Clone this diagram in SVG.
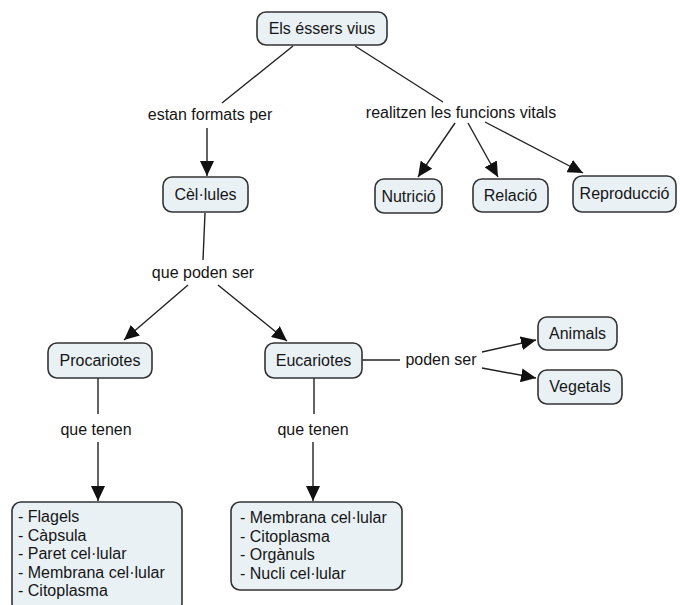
<svg xmlns="http://www.w3.org/2000/svg" width="680" height="605" viewBox="0 0 680 605">
<style>
.node rect{fill:#e9f1f5;stroke:#333;stroke-width:1.6}
text{font-family:"Liberation Sans",Arial,sans-serif;font-size:16px;fill:#151515}
.c{text-anchor:middle}
.edge{stroke:#222;stroke-width:1.4;fill:none}
</style>
<defs>
<marker id="ah" viewBox="0 0 15 14" refX="15" refY="7" markerWidth="15" markerHeight="14" markerUnits="userSpaceOnUse" orient="auto">
<path d="M0,0 L15,7 L0,14 z" fill="#111"/>
</marker>
</defs>
<rect width="680" height="605" fill="#fff"/>
<g id="connectors">
<line class="edge" x1="293" y1="46" x2="222" y2="103"/>
<line class="edge" x1="207" y1="128" x2="207" y2="176" marker-end="url(#ah)"/>
<line class="edge" x1="355" y1="46" x2="443" y2="102"/>
<line class="edge" x1="455" y1="123" x2="418" y2="177" marker-end="url(#ah)"/>
<line class="edge" x1="468" y1="123" x2="498" y2="177" marker-end="url(#ah)"/>
<line class="edge" x1="485" y1="122" x2="583" y2="173" marker-end="url(#ah)"/>
<line class="edge" x1="205" y1="213" x2="203" y2="260"/>
<line class="edge" x1="188" y1="285" x2="124" y2="340" marker-end="url(#ah)"/>
<line class="edge" x1="218" y1="285" x2="287" y2="341" marker-end="url(#ah)"/>
<line class="edge" x1="362" y1="360" x2="400" y2="360"/>
<line class="edge" x1="482" y1="352" x2="536" y2="340" marker-end="url(#ah)"/>
<line class="edge" x1="482" y1="368" x2="536" y2="378" marker-end="url(#ah)"/>
<line class="edge" x1="98" y1="378" x2="98" y2="414"/>
<line class="edge" x1="98" y1="442" x2="98" y2="501" marker-end="url(#ah)"/>
<line class="edge" x1="314" y1="378" x2="314" y2="414"/>
<line class="edge" x1="313" y1="442" x2="313" y2="501" marker-end="url(#ah)"/>
</g>
<g id="labels">
<text class="c" x="210" y="120">estan formats per</text>
<text class="c" x="461" y="118">realitzen les funcions vitals</text>
<text class="c" x="203" y="278">que poden ser</text>
<text class="c" x="441" y="365">poden ser</text>
<text class="c" x="96" y="435">que tenen</text>
<text class="c" x="313" y="435">que tenen</text>
</g>
<g id="n-essers" class="node"><rect x="257" y="12" width="130" height="33" rx="9"/><text class="c" x="322" y="34">Els éssers vius</text></g>
<g id="n-cellules" class="node"><rect x="163" y="177" width="85" height="35" rx="9"/><text class="c" x="205.5" y="200">Cèl·lules</text></g>
<g id="n-nutricio" class="node"><rect x="375" y="179" width="67" height="34" rx="9"/><text class="c" x="408.5" y="202">Nutrició</text></g>
<g id="n-relacio" class="node"><rect x="473" y="179" width="75" height="33" rx="9"/><text class="c" x="510.5" y="201">Relació</text></g>
<g id="n-reproduccio" class="node"><rect x="573" y="176" width="103" height="36" rx="9"/><text class="c" x="624.5" y="199">Reproducció</text></g>
<g id="n-procariotes" class="node"><rect x="48" y="343" width="104" height="35" rx="9"/><text class="c" x="100" y="366">Procariotes</text></g>
<g id="n-eucariotes" class="node"><rect x="265" y="343" width="97" height="35" rx="9"/><text class="c" x="313.5" y="366">Eucariotes</text></g>
<g id="n-animals" class="node"><rect x="538" y="317" width="79" height="33" rx="9"/><text class="c" x="577.5" y="339">Animals</text></g>
<g id="n-vegetals" class="node"><rect x="538" y="370" width="84" height="34" rx="9"/><text class="c" x="580" y="392">Vegetals</text></g>
<g id="n-proc-list" class="node"><rect x="12" y="502" width="170" height="110" rx="9"/>
<text x="18" y="522">- Flagels</text>
<text x="18" y="540.5">- Càpsula</text>
<text x="18" y="559">- Paret cel·lular</text>
<text x="18" y="577.5">- Membrana cel·lular</text>
<text x="18" y="596">- Citoplasma</text>
</g>
<g id="n-euc-list" class="node"><rect x="231" y="502" width="171" height="88" rx="9"/>
<text x="240" y="523">- Membrana cel·lular</text>
<text x="240" y="541.5">- Citoplasma</text>
<text x="240" y="560">- Orgànuls</text>
<text x="240" y="578.5">- Nucli cel·lular</text>
</g>
</svg>
